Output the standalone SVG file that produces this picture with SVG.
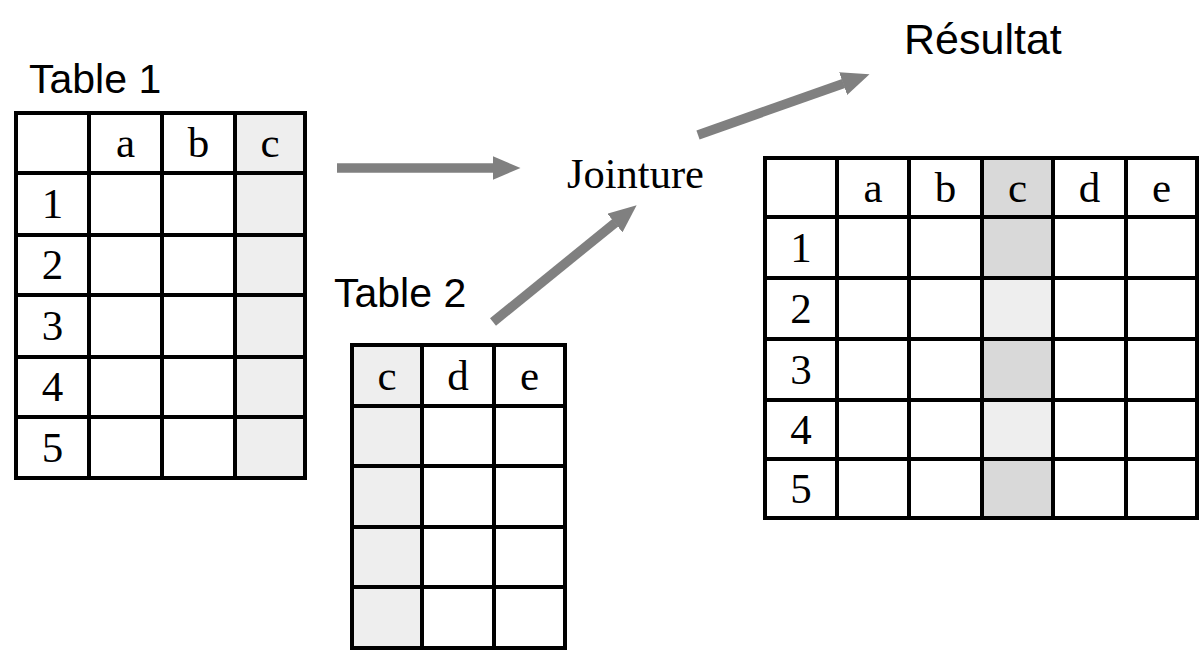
<svg xmlns="http://www.w3.org/2000/svg" width="1200" height="651" viewBox="0 0 1200 651">
<style>
.grid{fill:none;stroke:#000;stroke-width:4;stroke-linecap:square}
.lt{fill:#eeeeee}
.dk{fill:#d9d9d9}
.cell{font-family:"Liberation Serif","Times New Roman",serif;font-size:43px;fill:#000;text-anchor:middle}
.lbl{font-family:"Liberation Sans",Arial,sans-serif;font-size:41px;fill:#000}
.jt{font-family:"Liberation Serif","Times New Roman",serif;font-size:42.5px;fill:#000}
.arr{stroke:#808080;stroke-width:9.5;fill:none}
</style>
<defs>
<marker id="ah" markerUnits="userSpaceOnUse" markerWidth="28" markerHeight="24" refX="0.5" refY="12" orient="auto">
<path d="M0,0 L28,12 L0,24 Z" fill="#808080"/>
</marker>
</defs>
<rect width="1200" height="651" fill="#fff"/>

<g id="table1">
<text class="lbl" x="29" y="93">Table 1</text>
<rect class="lt" x="235" y="113" width="70" height="365"/>
<path class="grid" d="M16,113H305V478H16Z M89,113V478 M162,113V478 M235,113V478 M16,173H305 M16,235H305 M16,295H305 M16,357H305 M16,417H305"/>
<text class="cell" x="125.5" y="157">a</text>
<text class="cell" x="198.5" y="157">b</text>
<text class="cell" x="270" y="157">c</text>
<text class="cell" x="52.5" y="218">1</text>
<text class="cell" x="52.5" y="279">2</text>
<text class="cell" x="52.5" y="340">3</text>
<text class="cell" x="52.5" y="401">4</text>
<text class="cell" x="52.5" y="462">5</text>
</g>

<g id="table2">
<text class="lbl" x="334" y="307">Table 2</text>
<rect class="lt" x="352" y="345" width="70" height="303"/>
<path class="grid" d="M352,345H565V648H352Z M422,345V648 M494,345V648 M352,406H565 M352,466H565 M352,527H565 M352,587H565"/>
<text class="cell" x="387" y="390">c</text>
<text class="cell" x="458" y="390">d</text>
<text class="cell" x="529.5" y="390">e</text>
</g>

<g id="jointure">
<text class="jt" x="567" y="188">Jointure</text>
</g>

<g id="resultat">
<text class="lbl" x="904" y="54" style="font-size:43px">Résultat</text>
<rect class="dk" x="982" y="158" width="71" height="59"/>
<rect class="dk" x="982" y="217" width="71" height="61"/>
<rect class="lt" x="982" y="278" width="71" height="61"/>
<rect class="dk" x="982" y="339" width="71" height="61"/>
<rect class="lt" x="982" y="400" width="71" height="59"/>
<rect class="dk" x="982" y="459" width="71" height="59"/>
<path class="grid" d="M765,158H1197V518H765Z M837,158V518 M909,158V518 M982,158V518 M1053,158V518 M1126,158V518 M765,217H1197 M765,278H1197 M765,339H1197 M765,400H1197 M765,459H1197"/>
<text class="cell" x="873" y="202">a</text>
<text class="cell" x="945.5" y="202">b</text>
<text class="cell" x="1017.5" y="202">c</text>
<text class="cell" x="1089.5" y="202">d</text>
<text class="cell" x="1161.5" y="202">e</text>
<text class="cell" x="801" y="262">1</text>
<text class="cell" x="801" y="323">2</text>
<text class="cell" x="801" y="384">3</text>
<text class="cell" x="801" y="444">4</text>
<text class="cell" x="801" y="503">5</text>
</g>

<g id="connectors">
<line class="arr" x1="337" y1="168" x2="493" y2="168" marker-end="url(#ah)"/>
<line class="arr" x1="493" y1="322" x2="615.3" y2="222.7" marker-end="url(#ah)"/>
<line class="arr" x1="698" y1="135" x2="843.6" y2="83.4" marker-end="url(#ah)"/>
</g>
</svg>
